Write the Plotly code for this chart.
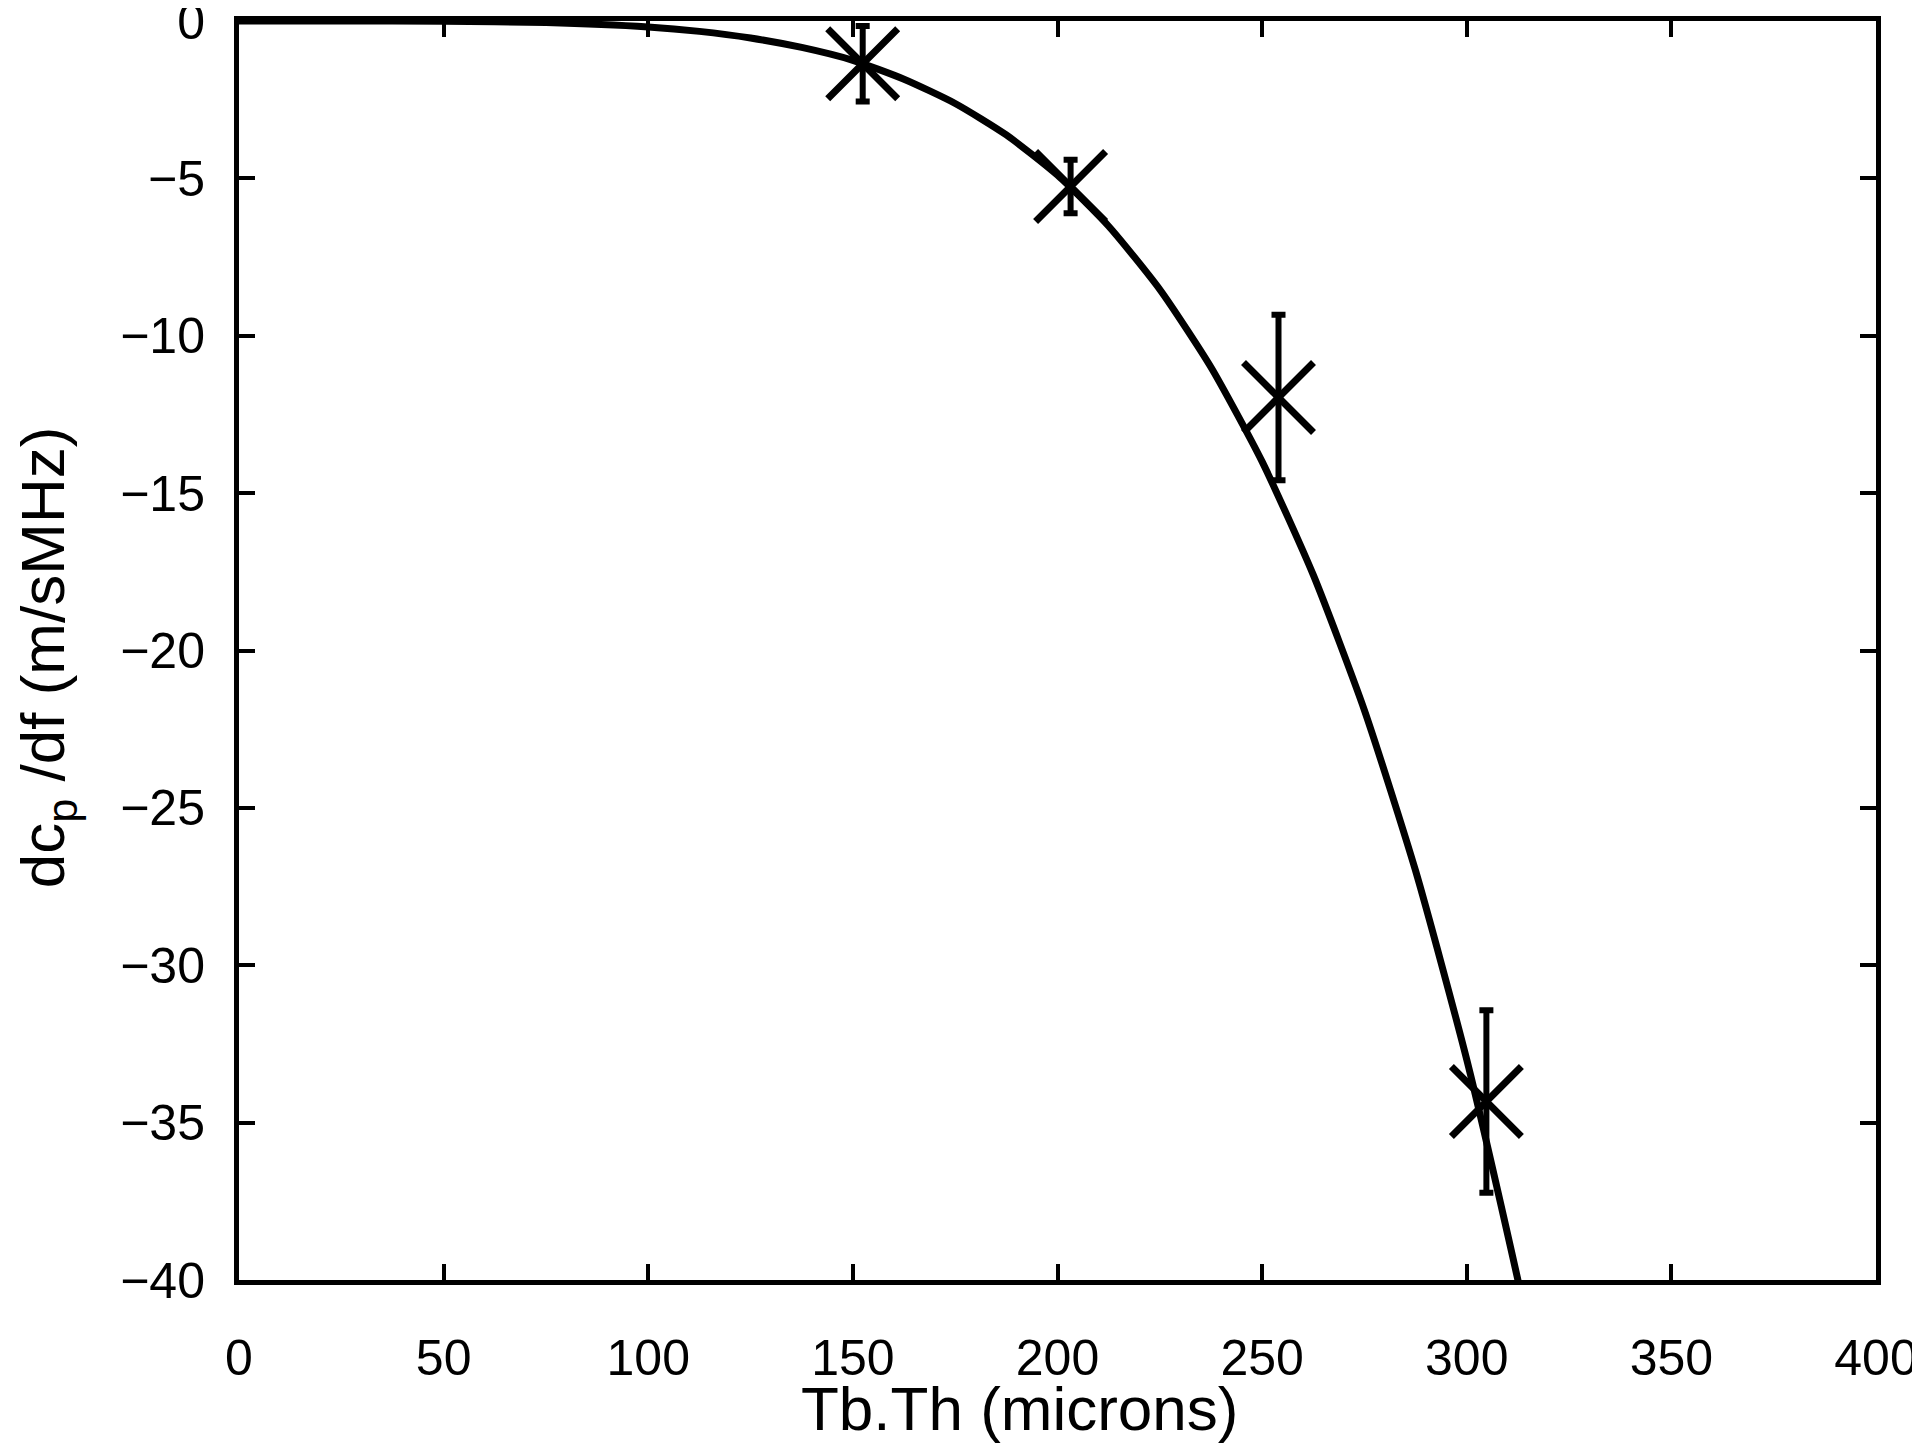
import plotly.graph_objects as go

# Measured points (Tb.Th in microns, dc_p/df in m/sMHz) with error bars
meas_x = [152.4, 203.2, 254.0, 304.8]
meas_y = [-1.36, -5.26, -11.96, -34.33]
meas_err = [1.2, 0.85, 2.63, 2.9]

# Fitted curve, values
fit_x = [0, 25, 50, 75, 100, 112.5, 125, 137.5, 150, 162.5, 175, 187.5, 200,
         212.5, 225, 237.5, 250, 262.5, 275, 287.5, 300, 312.5, 320]
fit_y = [0, 0, -0.01, -0.05, -0.19, -0.33, -0.54, -0.84, -1.25, -1.85, -2.62,
         -3.62, -4.90, -6.52, -8.53, -11.0, -14.0, -17.6, -21.9, -27.0, -33.0,
         -40.0, -44.5]

x_ticks = [0, 50, 100, 150, 200, 250, 300, 350, 400]
y_ticks = [0, -5, -10, -15, -20, -25, -30, -35, -40]

x_title = "Tb.Th (microns)"
y_title = "dc<sub>p</sub> /df (m/sMHz)"

FAM = "Liberation Sans, Arial, sans-serif"
tick_font = dict(family=FAM, size=50, color="black")
title_font = dict(family=FAM, size=62, color="black")

fig = go.Figure()
fig.add_trace(go.Scatter(
    x=fit_x, y=fit_y, mode="lines",
    line=dict(color="black", width=7, shape="spline", smoothing=0.6),
    showlegend=False, hoverinfo="skip"))
fig.add_trace(go.Scatter(
    x=meas_x, y=meas_y, mode="markers",
    marker=dict(symbol="x-thin", size=70, color="black",
                line=dict(color="black", width=7)),
    error_y=dict(type="data", array=meas_err, visible=True,
                 color="black", thickness=6, width=7),
    showlegend=False))

fig.update_layout(
    width=1920, height=1443,
    margin=dict(l=231, r=52, t=13, b=171),
    paper_bgcolor="white", plot_bgcolor="white",
    font=tick_font,
    xaxis=dict(range=[0, 400], tickvals=x_ticks, ticks="inside", ticklen=16,
               tickwidth=4, tickcolor="black", showline=True, linewidth=5,
               linecolor="black", mirror="ticks", showgrid=False,
               zeroline=False, tickfont=tick_font, ticklabelstandoff=30,
               ticklabeloverflow="allow", automargin=False),
    yaxis=dict(range=[-40, 0], tickvals=y_ticks, ticks="inside", ticklen=16,
               tickwidth=4, tickcolor="black", showline=True, linewidth=5,
               linecolor="black", mirror="ticks", showgrid=False,
               zeroline=False, tickfont=tick_font, ticklabelstandoff=19,
               ticklabeloverflow="allow", automargin=False),
    annotations=[
        dict(text=x_title, font=title_font, showarrow=False,
             xref="paper", yref="paper", x=0.477, y=-0.102,
             xanchor="center", yanchor="middle"),
        dict(text=y_title, font=title_font, showarrow=False, textangle=-90,
             xref="paper", yref="paper", x=-0.1176, y=0.495,
             xanchor="center", yanchor="middle"),
    ],
)

fig.write_html("out.html")
